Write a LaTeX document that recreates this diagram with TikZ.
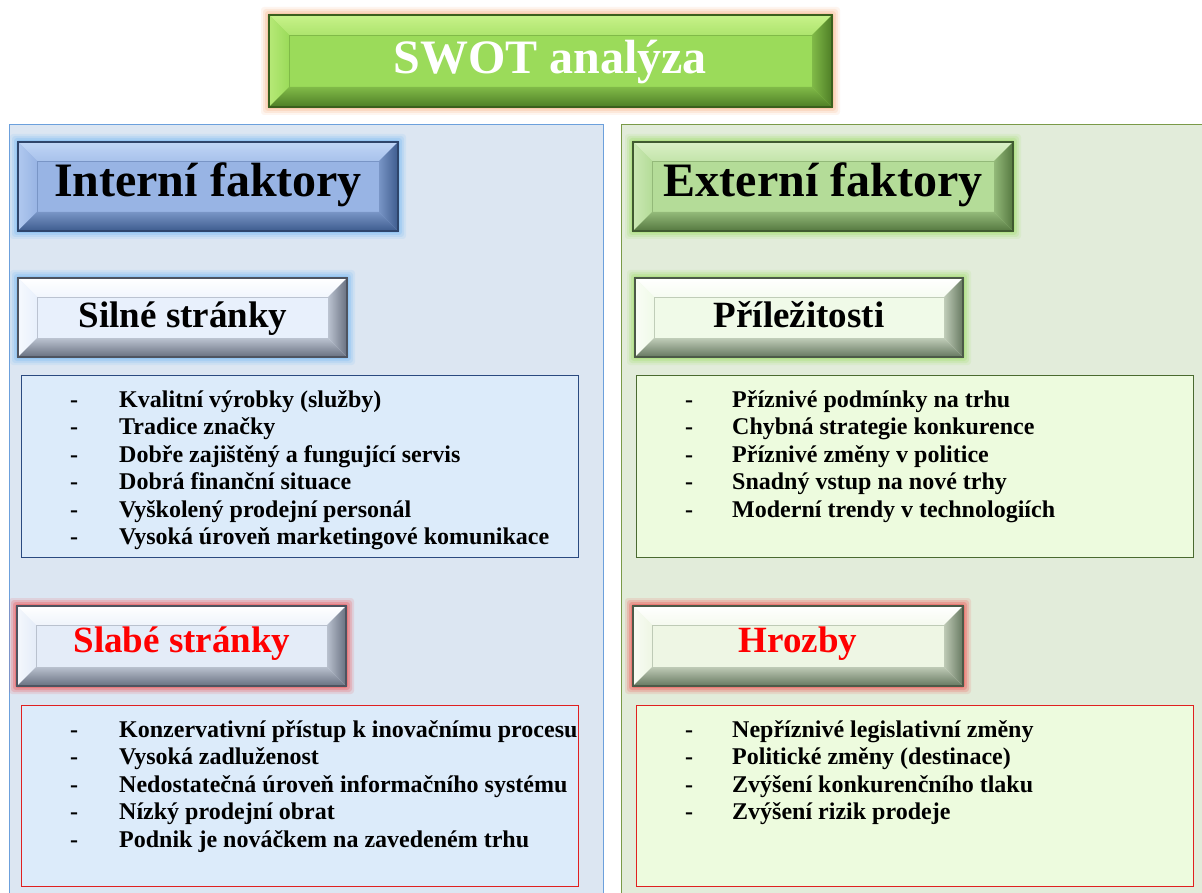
\documentclass[tikz,border=0pt]{standalone}
\usepackage{fontspec}
\setmainfont{Liberation Serif}
\definecolor{panelL}{HTML}{DCE6F2}
\definecolor{panelLb}{HTML}{6CA0DC}
\definecolor{panelR}{HTML}{E2ECDA}
\definecolor{panelRb}{HTML}{7A9A48}
\definecolor{listL}{HTML}{DCEBFA}
\definecolor{listR}{HTML}{EDFBDE}
\definecolor{listLb}{HTML}{2A4A80}
\definecolor{listRb}{HTML}{4A6A30}
\definecolor{redb}{HTML}{E02020}
\definecolor{tFace}{HTML}{9BDB5A}\definecolor{tLight}{HTML}{C8F28A}\definecolor{tDark}{HTML}{4E7E26}\definecolor{tGlow}{HTML}{F8B080}
\definecolor{iFace}{HTML}{98B4E4}\definecolor{iLight}{HTML}{C0D6F6}\definecolor{iDark}{HTML}{3E5C8E}\definecolor{iGlow}{HTML}{70B8F4}
\definecolor{eFace}{HTML}{B4DC98}\definecolor{eLight}{HTML}{DAF0C6}\definecolor{eDark}{HTML}{557840}\definecolor{eGlow}{HTML}{9CDC60}
\definecolor{sFace}{HTML}{E8F0FC}\definecolor{sLight}{HTML}{FFFFFF}\definecolor{sDark}{HTML}{687080}
\definecolor{pFace}{HTML}{F0FAE8}\definecolor{pLight}{HTML}{FFFFFF}\definecolor{pDark}{HTML}{667860}
\definecolor{rGlow}{HTML}{F04040}
\definecolor{wFace}{HTML}{E4ECF8}\definecolor{hFace}{HTML}{EEF6E4}
\newcommand\bevelbox[9]{%
  \foreach \g/\o in {8/0.12,6/0.18,4/0.25,2/0.35}{\fill[#9,opacity=\o,rounded corners=3] (#1-\g,#2-\g) rectangle (#3+\g,#4+\g);}
  \fill[#6] (#1,#2) rectangle (#3,#4);
  \shade[top color=#7, bottom color=#7!40!#6] (#1,#2) -- (#3,#2) -- (#3-#5,#2+#5) -- (#1+#5,#2+#5) -- cycle;
  \shade[left color=#7!60!#6, right color=#6] (#1,#2) -- (#1+#5,#2+#5) -- (#1+#5,#4-#5) -- (#1,#4) -- cycle;
  \shade[left color=#8!35!#6, right color=#8] (#3,#2) -- (#3,#4) -- (#3-#5,#4-#5) -- (#3-#5,#2+#5) -- cycle;
  \shade[top color=#8!35!#6, bottom color=#8] (#1,#4) -- (#3,#4) -- (#3-#5,#4-#5) -- (#1+#5,#4-#5) -- cycle;
  \draw[#8!35!#6, line width=0.8] (#1+#5,#2+#5) rectangle (#3-#5,#4-#5);
  \draw[#8!75!black, line width=1.6] (#1,#2) rectangle (#3,#4);
}
\begin{document}
\begin{tikzpicture}[x=1pt,y=-1pt,
  head/.style={anchor=base, inner sep=0, font=\fontsize{48}{52}\selectfont\bfseries},
  sub/.style={anchor=base, inner sep=0, font=\fontsize{37}{40}\selectfont\bfseries},
  listtext/.style={anchor=base west, inner sep=0, font=\fontsize{24}{27.5}\selectfont\bfseries},
  panel/.style={line width=0.9},
  listbox/.style={line width=1}]
\useasboundingbox (0,0) rectangle (1202,893);
\clip (0,0) rectangle (1202,893);
\fill[white] (0,0) rectangle (1202,893);
% panels
\draw[panel, fill=panelL, draw=panelLb] (9,124) rectangle (603,910);
\draw[panel, fill=panelR, draw=panelRb] (621,124) rectangle (1220,910);
% title
\bevelbox{269}{15}{832}{107}{20}{tFace}{tLight}{tDark}{tGlow}
\node[head, white] (title) at (550,74) {SWOT analýza};
% headers
\bevelbox{18}{142}{398}{231}{19}{iFace}{iLight}{iDark}{iGlow}
\node[head] (intern) at (208,197) {Interní faktory};
\bevelbox{633}{142}{1013}{231}{19}{eFace}{eLight}{eDark}{eGlow}
\node[head] (extern) at (823,197) {Externí faktory};
% sub headers
\bevelbox{18}{278}{347}{357}{19}{sFace}{sLight}{sDark}{iGlow}
\node[sub] (silne) at (183,327) {Silné stránky};
\bevelbox{635}{278}{963}{357}{19}{pFace}{pLight}{pDark}{eGlow}
\node[sub] (prilez) at (799,327) {Příležitosti};
\bevelbox{17}{606}{346}{686}{19}{wFace}{sLight}{sDark}{rGlow}
\node[sub, red] (slabe) at (182,652) {Slabé stránky};
\bevelbox{633}{606}{963}{686}{19}{hFace}{pLight}{pDark}{rGlow}
\node[sub, red] (hrozby) at (798,652) {Hrozby};
% list boxes
\draw[listbox, fill=listL, draw=listLb] (21,375) rectangle (578,557);
\draw[listbox, fill=listR, draw=listRb] (636,375) rectangle (1193,557);
\draw[listbox, fill=listL, draw=redb] (21,705) rectangle (578,886);
\draw[listbox, fill=listR, draw=redb] (636,705) rectangle (1193,886);
\node[listtext] (silnelist) at (70,407) {\begin{tabular}[t]{@{}p{49pt}@{}l@{}}
-&Kvalitní výrobky (služby)\\
-&Tradice značky\\
-&Dobře zajištěný a fungující servis\\
-&Dobrá finanční situace\\
-&Vyškolený prodejní personál\\
-&Vysoká úroveň marketingové komunikace
\end{tabular}};
\node[listtext] (prilezlist) at (685,407) {\begin{tabular}[t]{@{}p{47pt}@{}l@{}}
-&Příznivé podmínky na trhu\\
-&Chybná strategie konkurence\\
-&Příznivé změny v politice\\
-&Snadný vstup na nové trhy\\
-&Moderní trendy v technologiích
\end{tabular}};
\node[listtext] (slabelist) at (70,737) {\begin{tabular}[t]{@{}p{49pt}@{}l@{}}
-&Konzervativní přístup k inovačnímu procesu\\
-&Vysoká zadluženost\\
-&Nedostatečná úroveň informačního systému\\
-&Nízký prodejní obrat\\
-&Podnik je nováčkem na zavedeném trhu
\end{tabular}};
\node[listtext] (hrozbylist) at (685,737) {\begin{tabular}[t]{@{}p{47pt}@{}l@{}}
-&Nepříznivé legislativní změny\\
-&Politické změny (destinace)\\
-&Zvýšení konkurenčního tlaku\\
-&Zvýšení rizik prodeje
\end{tabular}};
\end{tikzpicture}
\end{document}
